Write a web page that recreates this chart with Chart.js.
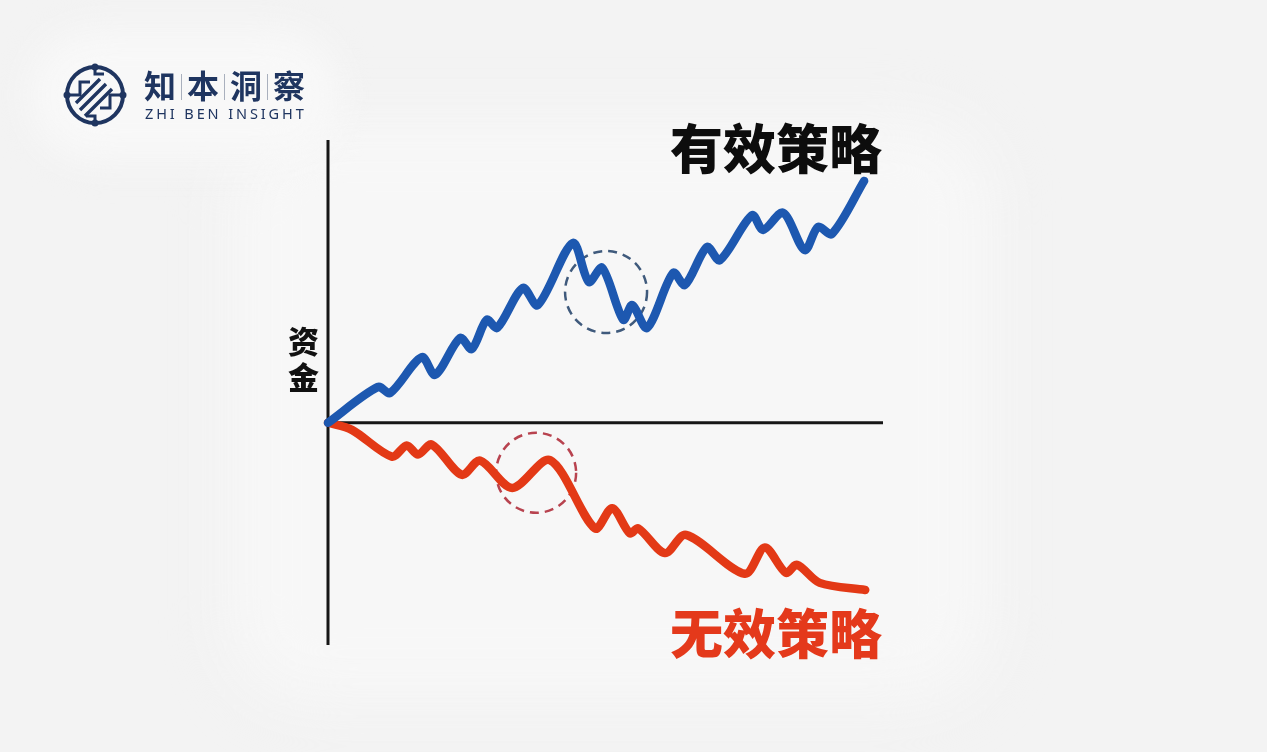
<!DOCTYPE html>
<html>
<head>
<meta charset="utf-8">
<script src="https://cdn.jsdelivr.net/npm/chart.js@4.4.1/dist/chart.umd.min.js"></script>
<style>
  html, body { margin: 0; padding: 0; }
  body { width: 1267px; height: 752px; background: #f3f3f3; position: relative; overflow: hidden;
         font-family: "Noto Sans CJK SC", "Noto Sans", sans-serif; }
  .glow { position: absolute; left: 230px; top: 120px; width: 760px; height: 580px; border-radius: 80px;
          background: #f7f7f7; filter: blur(30px); }
  .logoBg { position: absolute; left: 30px; top: 30px; width: 310px; height: 130px; border-radius: 65px;
          background: #f8f8f8; filter: blur(18px); }
  #wrap { position: absolute; left: 0; top: 0; width: 1267px; height: 752px; }
  .lbl { position: absolute; font-weight: 900; white-space: nowrap; }
  .logo-cn { position: absolute; left: 144px; top: 61px; font-size: 32px; color: #1f3560; font-weight: 700; letter-spacing: 0; }
  .logo-cn span.sep { display: inline-block; width: 1px; height: 26px; background: #a9b0bd; margin: 0 5px 0 5px; vertical-align: -2px; }
  .logo-en { position: absolute; left: 145px; top: 103px; font-family: "Noto Sans", sans-serif; font-size: 14.5px;
             color: #1f3560; letter-spacing: 2.9px; }
</style>
</head>
<body>
<div class="glow"></div>
<div class="logoBg"></div>
<div id="wrap"><canvas id="grafico" width="1267" height="752"></canvas></div>

<svg style="position:absolute;left:60px;top:60px" width="70" height="70" viewBox="0 0 70 70">
  <g stroke="#1f3560" fill="none" stroke-width="4">
    <circle cx="35" cy="35" r="28"/>
    <path d="M20 50 L46 24 M25 56 L52 29 M16 43 L40 19" stroke-width="3.4"/>
    <path d="M10 35 H20 V22 H30 M60 35 H50 V48 H40 M35 7 V14 H44 M35 63 V56 H26" stroke-width="3"/>
  </g>
  <g fill="#1f3560">
    <circle cx="7" cy="35" r="3.5"/><circle cx="63" cy="35" r="3.5"/>
    <circle cx="35" cy="7" r="3.5"/><circle cx="35" cy="63" r="3.5"/>
  </g>
</svg>
<div class="logo-cn">知<span class="sep"></span>本<span class="sep"></span>洞<span class="sep"></span>察</div>
<div class="logo-en">ZHI BEN INSIGHT</div>

<div class="lbl" style="left:670px;top:108px;font-size:53px;color:#0d0d0d;">有效策略</div>
<div class="lbl" style="left:670px;top:593px;font-size:53px;color:#e4391b;">无效策略</div>
<div class="lbl" style="left:288px;top:322px;font-size:31px;line-height:36px;color:#111;width:34px;white-space:normal;">资<br>金</div>

<script>
// tempo (asse x) e capitale (asse y)
const bluX = [0, 9.0, 11.2, 16.9, 19.3, 23.8, 25.9, 28.6, 30.5, 35.1, 37.8, 44.1, 47.0, 49.4, 53.2, 54.8, 57.5,
              62.2, 64.3, 68.3, 70.6, 76.4, 78.4, 82.0, 85.9, 88.3, 90.8, 96.6];
const bluY = [0, 7.1, 5.9, 13.0, 9.5, 16.8, 14.6, 20.4, 18.8, 26.7, 23.3, 35.6, 27.9, 30.7, 20.4, 23.3, 18.8,
              29.7, 27.3, 34.8, 32.2, 41.1, 38.2, 41.6, 34.2, 38.8, 37.4, 47.9];
const rossoX = [0, 4.3, 11.5, 14.2, 16.2, 18.7, 24.1, 27.4, 33.2, 40.0, 48.1, 51.2, 54.4, 55.9, 60.7, 64.5,
                75.1, 78.7, 82.5, 84.5, 88.6, 96.8];
const rossoY = [0, -1.4, -6.7, -4.5, -6.3, -4.3, -10.3, -7.5, -12.9, -7.4, -20.9, -16.9, -21.9, -20.9, -25.8, -22.2,
                -29.9, -24.7, -29.7, -28.1, -31.7, -33.1];
// zone evidenziate (centro dei cerchi tratteggiati)
const cerchioBlu = { x: 50.1, y: 25.9 };
const cerchioRosso = { x: 37.5, y: -9.9 };

function punti(xs, ys) {
    return xs.map((x, i) => ({ x: x, y: ys[i] }));
}

// assi + cerchi tratteggiati
const assi = {
    id: 'assi',
    beforeDatasetsDraw: function (chart) {
        const ctx = chart.ctx, a = chart.chartArea;
        const sx = chart.scales.x, sy = chart.scales.y;
        const y0 = sy.getPixelForValue(0);
        ctx.save();
        ctx.strokeStyle = '#161616';
        ctx.lineWidth = 3;
        ctx.beginPath();
        ctx.moveTo(a.left, a.top);
        ctx.lineTo(a.left, a.bottom);
        ctx.moveTo(a.left, y0);
        ctx.lineTo(a.right, y0);
        ctx.stroke();

        ctx.setLineDash([9, 6]);
        ctx.lineWidth = 2.5;
        ctx.strokeStyle = '#3f5a7c';
        ctx.beginPath();
        ctx.arc(sx.getPixelForValue(cerchioBlu.x), sy.getPixelForValue(cerchioBlu.y), 41, 0, Math.PI * 2);
        ctx.stroke();
        ctx.strokeStyle = '#b8434f';
        ctx.beginPath();
        ctx.arc(sx.getPixelForValue(cerchioRosso.x), sy.getPixelForValue(cerchioRosso.y), 40, 0, Math.PI * 2);
        ctx.stroke();
        ctx.restore();
    }
};

new Chart(document.getElementById('grafico').getContext('2d'), {
    type: 'line',
    data: {
        datasets: [{
            label: '有效策略',
            data: punti(bluX, bluY),
            borderColor: '#1d58b0',
            borderWidth: 8.5,
            pointRadius: 0,
            tension: 0.3,
            borderCapStyle: 'round',
            borderJoinStyle: 'round',
            clip: false
        }, {
            label: '无效策略',
            data: punti(rossoX, rossoY),
            borderColor: '#e33916',
            borderWidth: 8.5,
            pointRadius: 0,
            tension: 0.3,
            borderCapStyle: 'round',
            borderJoinStyle: 'round',
            clip: false
        }]
    },
    options: {
        responsive: false,
        animation: false,
        layout: { padding: { left: 328, right: 384, top: 140, bottom: 107 } },
        scales: {
            x: { type: 'linear', min: 0, max: 100, display: false },
            y: { type: 'linear', min: -44, max: 56, display: false }
        },
        plugins: {
            legend: { display: false },
            tooltip: { enabled: false }
        }
    },
    plugins: [assi]
});
</script>
</body>
</html>
